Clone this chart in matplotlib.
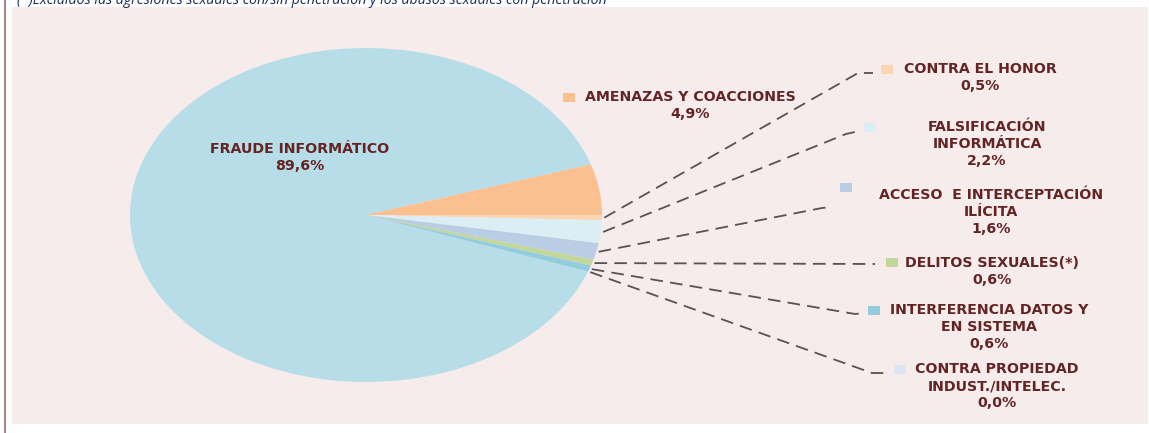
import numpy as np
import matplotlib.pyplot as plt
from matplotlib.patches import Rectangle

# data (percent)
categorias = ['FRAUDE INFORMÁTICO', 'AMENAZAS Y COACCIONES', 'CONTRA EL HONOR',
              'FALSIFICACIÓN\nINFORMÁTICA', 'ACCESO  E INTERCEPTACIÓN\nILÍCITA',
              'DELITOS SEXUALES(*)', 'INTERFERENCIA DATOS Y\nEN SISTEMA',
              'CONTRA PROPIEDAD\nINDUST./INTELEC.']
porcentajes = [89.6, 4.9, 0.5, 2.2, 1.6, 0.6, 0.6, 0.0]
etiquetas = ['89,6%', '4,9%', '0,5%', '2,2%', '1,6%', '0,6%', '0,6%', '0,0%']
colores = ['#b7dde8', '#fac090', '#fcd5b4', '#dbeef4', '#b9cde5',
           '#c3d69b', '#93cddd', '#dce6f2']
nota = '(*)Excluidos las agresiones sexuales con/sin penetración y los abusos sexuales con penetración'

W, H = 1149, 433
fig = plt.figure(figsize=(W / 100, H / 100), dpi=100)
fig.patch.set_facecolor('white')

# background panel + left border line
fig.patches.append(Rectangle((12 / W, (H - 424) / H), (1148 - 12) / W, (424 - 7) / H,
                             transform=fig.transFigure, facecolor='#f6ecec',
                             edgecolor='none', zorder=-2))
fig.patches.append(Rectangle((4 / W, 0), 2 / W, 1, transform=fig.transFigure,
                             facecolor='#a58585', edgecolor='none', zorder=-2))

# pie (elliptical, as in the original)
cx, cy, rx, ry = 366, 215, 236, 167
ax = fig.add_axes([(cx - rx) / W, (H - cy - ry) / H, 2 * rx / W, 2 * ry / H])
ax.patch.set_alpha(0)
total = sum(porcentajes)
start = 360 * (porcentajes[0] + porcentajes[1]) / total
wedges, _ = ax.pie(porcentajes, colors=colores, startangle=start,
                   counterclock=False, radius=1,
                   wedgeprops=dict(edgecolor='none'))
ax.set_aspect('auto')
ax.set_xlim(-1, 1)
ax.set_ylim(-1, 1)
ax.axis('off')

# overlay in pixel coords
ov = fig.add_axes([0, 0, 1, 1])
ov.set_xlim(0, W)
ov.set_ylim(H, 0)
ov.axis('off')
ov.patch.set_alpha(0)

col_txt = '#632523'
fuente = dict(family='DejaVu Sans', weight='bold', fontsize=10.2, color=col_txt)

def edge_px(w):
    ang = np.deg2rad((w.theta1 + w.theta2) / 2)
    return cx + rx * 1.01 * np.cos(ang), cy - ry * 1.01 * np.sin(ang)

# label layout: (text centre x, first line y, marker x, marker y, leader path)
layout = {
    1: (690, 97, 569, 97, None),
    2: (980, 69, 887, 69, [(858, 73), (873, 73)]),
    3: (987, 127, 870, 127, [(846, 134), (855, 132)]),
    4: (991, 195, 846, 187, [(822, 208), (832, 207)]),
    5: (992, 263, 892, 262, [(875, 264)]),
    6: (989, 310, 874, 310, [(855, 314), (865, 313)]),
    7: (997, 369, 900, 369, [(872, 373), (884, 373)]),
}

ov.text(300, 149, categorias[0], ha='center', va='center', **fuente)
ov.text(300, 166, etiquetas[0], ha='center', va='center', **fuente)

for i, (tx, ty, mx, my, path) in layout.items():
    lineas = categorias[i].split('\n') + [etiquetas[i]]
    for k, ln in enumerate(lineas):
        ov.text(tx, ty + k * 17, ln, ha='center', va='center', **fuente)
    ov.add_patch(Rectangle((mx - 6, my - 4.5), 12, 9, facecolor=colores[i],
                           edgecolor='none'))
    if path:
        x0, y0 = edge_px(wedges[i])
        xs = [x0] + [p[0] for p in path]
        ys = [y0] + [p[1] for p in path]
        ov.plot(xs, ys, color='#57534e', lw=1.3, dashes=(7, 4))

ov.text(17, 0, nota, ha='left', va='center', style='italic', fontsize=10.2,
        family='Open Sans', color='#1a2b55')

fig.savefig('out.png', dpi=100, facecolor='white')
